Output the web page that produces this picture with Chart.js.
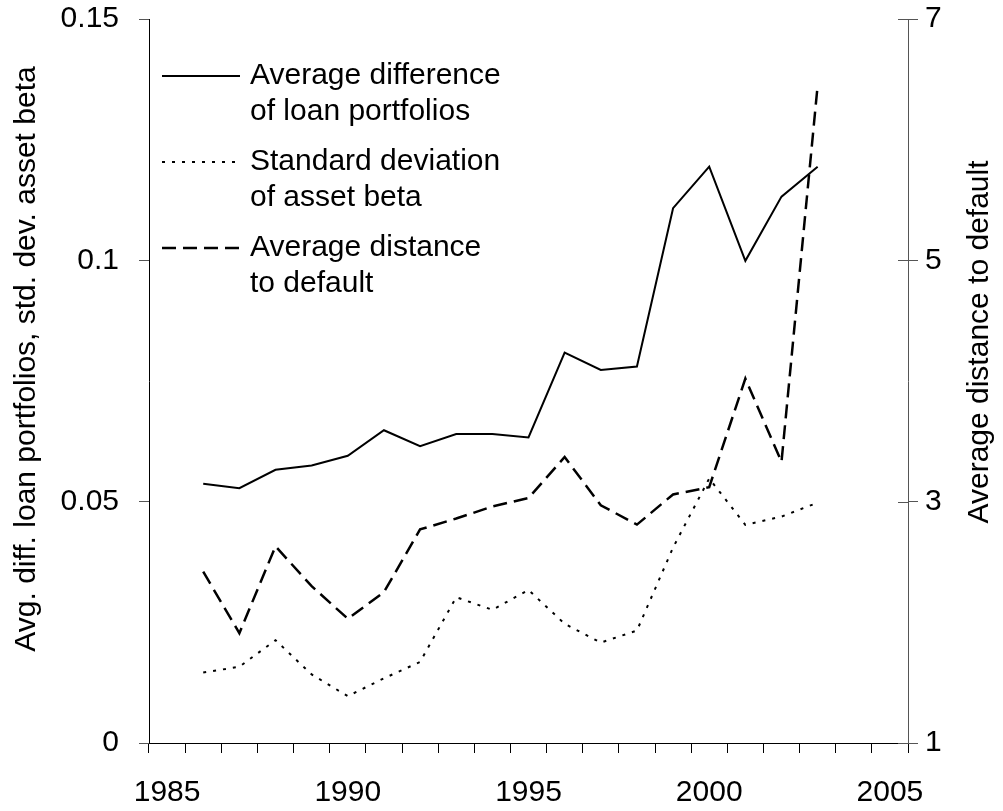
<!DOCTYPE html>
<html lang="en">
<head>
    <meta charset="UTF-8">
    <title>Loan portfolios and distance to default</title>
    <style>
        body {
            margin: 0;
            background: #ffffff;
        }
        #chart {
            display: block;
        }
    </style>
    <script src="https://cdn.jsdelivr.net/npm/chart.js"></script>
</head>
<body>
    <canvas id="chart" width="1003" height="811"></canvas>

    <script>
        // categories on the x axis (one per year, labels shown every 5 years)
        const axisYears = ['1985', '1986', '1987', '1988', '1989', '1990', '1991', '1992', '1993', '1994', '1995',
                           '1996', '1997', '1998', '1999', '2000', '2001', '2002', '2003', '2004', '2005'];
        const years = ['1986', '1987', '1988', '1989', '1990', '1991', '1992', '1993', '1994',
                       '1995', '1996', '1997', '1998', '1999', '2000', '2001', '2002', '2003'];

        // left axis series
        const avgDiffLoan = [0.0537, 0.0528, 0.0566, 0.0575, 0.0595, 0.0648, 0.0615, 0.0640, 0.0640,
                             0.0633, 0.0809, 0.0773, 0.0780, 0.1108, 0.1194, 0.0999, 0.1132, 0.1194];
        const stdDevBeta = [0.0146, 0.0158, 0.0213, 0.0142, 0.0097, 0.0134, 0.0168, 0.0302, 0.0276,
                            0.0317, 0.0247, 0.0208, 0.0233, 0.0405, 0.0548, 0.0452, 0.0469, 0.0498];
        // right axis series
        const distDefault = [2.42, 1.91, 2.63, 2.30, 2.03, 2.25, 2.77, 2.86, 2.96,
                             3.03, 3.37, 2.97, 2.81, 3.06, 3.12, 4.02, 3.33, 6.45];

        const leftTitle = 'Avg. diff. loan portfolios, std. dev. asset beta';
        const rightTitle = 'Average distance to default';

        const FONT = 'Arial, "Liberation Sans", sans-serif';

        function toPoints(values) {
            return years.map((y, i) => ({ x: y, y: values[i] }));
        }

        // legend drawn inside the plot, two text lines per entry
        const insideLegend = {
            id: 'insideLegend',
            afterDraw(chart) {
                const ctx = chart.ctx;
                ctx.save();
                ctx.font = '30px ' + FONT;
                ctx.fillStyle = '#000';
                ctx.textBaseline = 'middle';
                chart.data.datasets.forEach((ds, i) => {
                    const y = 76 + i * 86;
                    ctx.strokeStyle = '#000';
                    ctx.lineWidth = ds.borderWidth;
                    ctx.setLineDash(ds.borderDash || []);
                    ctx.beginPath();
                    ctx.moveTo(162, y);
                    ctx.lineTo(240, y);
                    ctx.stroke();
                    ds.label.split('\n').forEach((line, j) => {
                        ctx.fillText(line, 250, y + j * 36);
                    });
                });
                ctx.restore();
            }
        };

        // axis titles + inner half of the right axis ticks
        const axisExtras = {
            id: 'axisExtras',
            afterDraw(chart) {
                const ctx = chart.ctx;
                const area = chart.chartArea;
                ctx.save();
                ctx.font = '30px ' + FONT;
                ctx.fillStyle = '#000';
                ctx.textAlign = 'center';
                ctx.textBaseline = 'middle';

                ctx.save();
                ctx.translate(27, 359);
                ctx.rotate(-Math.PI / 2);
                ctx.fillText(leftTitle, 0, 0);
                ctx.restore();

                ctx.save();
                ctx.translate(980, 342);
                ctx.rotate(-Math.PI / 2);
                ctx.fillText(rightTitle, 0, 0);
                ctx.restore();

                const y2 = chart.scales.y2;
                ctx.strokeStyle = '#555';
                ctx.lineWidth = 1;
                y2.ticks.forEach(t => {
                    const py = Math.round(y2.getPixelForValue(t.value)) + 0.5;
                    ctx.beginPath();
                    ctx.moveTo(area.right - 10, py);
                    ctx.lineTo(area.right, py);
                    ctx.stroke();
                });
                ctx.restore();
            }
        };

        // fix the plot box: left axis at x=149, right at 908, top 19, bottom 743
        function fitVertical(width) {
            return s => {
                s.width = width;
                s.paddingTop = 0;
                s.paddingBottom = 0;
            };
        }

        const ctx = document.getElementById('chart').getContext('2d');
        new Chart(ctx, {
            type: 'line',
            data: {
                labels: axisYears,
                datasets: [
                    {
                        label: 'Average difference\nof loan portfolios',
                        data: toPoints(avgDiffLoan),
                        yAxisID: 'y',
                        borderColor: '#000',
                        borderWidth: 2,
                        borderDash: [],
                        pointRadius: 0,
                        tension: 0,
                        fill: false
                    },
                    {
                        label: 'Standard deviation\nof asset beta',
                        data: toPoints(stdDevBeta),
                        yAxisID: 'y',
                        borderColor: '#000',
                        borderWidth: 2,
                        borderDash: [3, 7],
                        pointRadius: 0,
                        tension: 0,
                        fill: false
                    },
                    {
                        label: 'Average distance\nto default',
                        data: toPoints(distDefault),
                        yAxisID: 'y2',
                        borderColor: '#000',
                        borderWidth: 2.5,
                        borderDash: [14, 7],
                        pointRadius: 0,
                        tension: 0,
                        fill: false
                    }
                ]
            },
            options: {
                responsive: false,
                animation: false,
                devicePixelRatio: 1,
                layout: { padding: { top: 19, left: 0, right: 0, bottom: 0 } },
                plugins: {
                    legend: { display: false },
                    tooltip: { enabled: false }
                },
                scales: {
                    x: {
                        type: 'category',
                        offset: true,
                        grid: {
                            offset: true,
                            drawOnChartArea: false,
                            tickLength: 10,
                            color: '#000'
                        },
                        border: { color: '#000', width: 1 },
                        ticks: {
                            autoSkip: false,
                            maxRotation: 0,
                            color: '#000',
                            font: { family: FONT, size: 30 },
                            padding: 22,
                            callback: function (value, index) {
                                return index % 5 === 0 ? this.getLabelForValue(value) : '';
                            }
                        },
                        afterFit: s => {
                            s.height = 68;
                            s.paddingLeft = 0;
                            s.paddingRight = 0;
                        }
                    },
                    y: {
                        position: 'left',
                        min: 0,
                        max: 0.15,
                        grid: {
                            drawOnChartArea: false,
                            tickLength: 10,
                            color: '#555'
                        },
                        border: { color: '#000', width: 1 },
                        ticks: {
                            stepSize: 0.05,
                            color: '#000',
                            font: { family: FONT, size: 30 },
                            padding: 20,
                            callback: v => String(Number(v.toFixed(2)))
                        },
                        afterFit: fitVertical(149)
                    },
                    y2: {
                        position: 'right',
                        min: 1,
                        max: 7,
                        grid: {
                            drawOnChartArea: false,
                            tickLength: 10,
                            color: '#555'
                        },
                        border: { color: '#555', width: 1 },
                        ticks: {
                            stepSize: 2,
                            color: '#000',
                            font: { family: FONT, size: 30 },
                            padding: 7
                        },
                        afterFit: fitVertical(95)
                    }
                }
            },
            plugins: [insideLegend, axisExtras]
        });
    </script>
</body>
</html>
